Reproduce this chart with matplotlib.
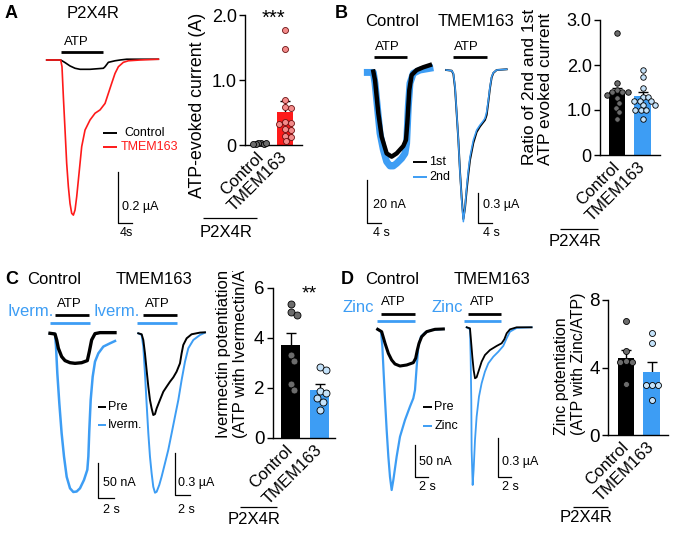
import numpy as np
import matplotlib
matplotlib.use('Agg')
import matplotlib.pyplot as plt
from matplotlib.lines import Line2D
from matplotlib.transforms import Bbox, TransformedBbox

plt.rcParams['font.family'] = ['Liberation Sans', 'DejaVu Sans']

W, H = 673, 536
RED = '#fe1a1a'
BLUE = '#3d9df4'
GREY_DOT = '#6c6c6c'
RED_DOT = '#f38b8b'
BLUE_DOT = '#c4e2fa'

groups = ['Control', 'TMEM163']

# ---------------- data (time in s from ATP onset) ----------------
# A: P2X4R traces, current in uA
a_ctrl_t = [-4.0, 0.0, 1.24, 2.66, 4.1, 5.52, 8.38, 12.19, 12.67, 13.62, 15.52, 16.95, 18.86, 27.9]
a_ctrl_i = [0.0, 0.0, -0.010, -0.023, -0.032, -0.036, -0.036, -0.032, -0.026, -0.009, -0.003, 0.0, 0.003, 0.003]
a_tmem_t = [-4.0, 0.0, 0.37, 0.76, 1.24, 1.71, 2.19, 2.66, 3.14, 3.62, 4.1, 4.57, 5.33, 6.0, 6.95,
            8.38, 9.81, 11.24, 12.67, 13.62, 14.57, 15.52, 16.48, 17.9, 19.33, 22.67, 27.9]
a_tmem_i = [0.0, 0.0, -0.026, -0.142, -0.271, -0.400, -0.490, -0.555, -0.593, -0.600, -0.580, -0.529,
            -0.426, -0.335, -0.271, -0.232, -0.206, -0.193, -0.168, -0.129, -0.090, -0.052, -0.026,
            -0.009, -0.003, 0.0, 0.003]
a_atp = (0.0, 12.2)

# A: ATP-evoked current summary
a_ctrl_pts = [0.03, 0.02, 0.04, 0.02, 0.03, 0.02]
a_tmem_pts = [1.77, 1.48, 0.70, 0.59, 0.58, 0.35, 0.34, 0.33, 0.25, 0.23, 0.15, 0.13, 0.06]
a_mean = [0.03, 0.51]
a_sem = [0.01, 0.17]

# B: repeated ATP, control in nA, TMEM163 in uA
b_ctrl_t2 = [-2.0, -0.2, 0.3, 0.8, 1.3, 1.8, 2.8, 3.8, 4.8, 5.8, 6.8, 8.3, 9.3, 9.8, 10.3, 10.8, 11.8, 13.8, 16.8]
b_ctrl_i2 = [-0.2, -0.2, -5.2, -12.9, -20.6, -28.3, -36.0, -41.4, -43.4, -43.4, -42.2, -39.9, -37.6,
             -32.9, -16.0, -5.2, -0.6, 0.9, 1.7]
b_ctrl_t1 = [-0.2, 0.3, 1.3, 2.3, 3.8, 5.3, 6.8, 8.8, 9.6, 10.0, 10.6, 11.3, 12.8, 14.8, 16.8]
b_ctrl_i1 = [0.2, -3.7, -19.1, -29.9, -37.6, -39.1, -37.6, -34.2, -31.4, -23.7, -8.3, -1.4, 0.9, 2.2, 3.2]
b_tmem_t = [-2.0, -0.3, 0.2, 0.7, 1.2, 1.7, 2.2, 2.7, 3.2, 3.7, 4.2, 4.7, 5.2, 6.2, 7.2, 8.2, 9.0, 9.7,
            10.2, 10.7, 11.2, 11.7, 12.2, 13.2, 16.2]
b_tmem_i1 = [0.0, -0.007, -0.040, -0.180, -0.440, -0.70, -1.02, -1.28, -1.49, -1.38, -1.20, -1.04, -0.90,
             -0.73, -0.62, -0.565, -0.53, -0.50, -0.45, -0.32, -0.18, -0.075, -0.030, 0.0, 0.007]
b_tmem_i2 = [0.0, -0.007, -0.033, -0.167, -0.433, -0.70, -1.033, -1.30, -1.517, -1.367, -1.167, -1.0,
             -0.867, -0.70, -0.60, -0.55, -0.517, -0.483, -0.417, -0.30, -0.167, -0.067, -0.027, 0.0, 0.007]
b_atp_ctrl = (0.0, 9.8)
b_atp_tmem = (0.0, 10.2)

# B: ratio of 2nd / 1st response
b_ctrl_pts = [2.70, 1.59, 1.44, 1.39, 1.39, 1.39, 1.33, 1.26, 1.15, 1.05, 0.95, 0.79]
b_tmem_pts = [1.89, 1.74, 1.48, 1.30, 1.30, 1.20, 1.20, 1.20, 1.11, 1.11, 1.00, 1.00, 1.00, 0.79]
b_mean = [1.39, 1.31]
b_sem = [0.11, 0.08]

# C: ivermectin, control in nA, TMEM163 in uA
c_ctrl_t_pre = [-0.625, 0.0, 0.21, 0.42, 0.83, 1.25, 1.875, 2.5, 3.33, 4.04, 4.29, 4.58, 5.0, 5.625, 7.5]
c_ctrl_i_pre = [0.0, -1.0, -9.5, -21.4, -33.3, -39.0, -42.0, -42.9, -42.0, -39.0, -26.2, -9.5, -0.5, 0.95, 0.95]
c_ctrl_t_iv = [-0.625, 0.0, 0.125, 0.29, 0.54, 0.83, 1.125, 1.46, 1.875, 2.29, 2.71, 3.125, 3.625,
               4.04, 4.17, 4.29, 4.46, 4.71, 5.0, 5.42, 6.04, 6.875, 7.5]
c_ctrl_i_iv = [0.0, -1.0, -19.0, -57.0, -100.0, -143.0, -176.0, -205.0, -221.4, -226.7, -226.0, -221.4,
               -209.5, -195.0, -176.0, -138.0, -95.3, -62.0, -40.5, -28.6, -19.0, -14.3, -11.0]
c_tmem_t_pre = [-0.67, -0.22, 0.0, 0.22, 0.44, 0.67, 0.89, 1.11, 1.33, 1.56, 1.78, 2.22, 2.67, 3.11,
                3.56, 4.0, 4.44, 4.89, 5.11, 5.33, 5.78, 6.44, 7.56, 8.22]
c_tmem_i_pre = [0.0, -0.007, -0.048, -0.144, -0.264, -0.384, -0.480, -0.540, -0.588, -0.581, -0.540,
                -0.480, -0.420, -0.384, -0.348, -0.317, -0.276, -0.216, -0.144, -0.084, -0.036, -0.007,
                0.005, 0.007]
c_tmem_t_iv = [-0.67, -0.22, 0.0, 0.22, 0.44, 0.67, 0.89, 1.11, 1.33, 1.56, 1.78, 2.13, 2.44, 2.89,
               3.33, 3.78, 4.22, 4.67, 5.11, 5.56, 6.0, 6.67, 7.56, 8.22]
c_tmem_i_iv = [0.0, -0.012, -0.096, -0.288, -0.504, -0.719, -0.888, -1.007, -1.104, -1.147, -1.14,
               -1.091, -1.032, -0.935, -0.839, -0.719, -0.600, -0.480, -0.336, -0.204, -0.108, -0.048,
               -0.012, 0.005]
c_atp_ctrl, c_iv_ctrl = (0.0, 4.3), (-0.625, 4.375)
c_atp_tmem, c_iv_tmem = (0.0, 4.45), (-0.88, 4.45)

# C: ivermectin potentiation
c_ctrl_pts = [5.35, 5.02, 4.91, 3.31, 3.06, 2.15, 1.91]
c_tmem_pts = [2.82, 2.69, 1.85, 1.78, 1.59, 1.42, 1.09]
c_mean = [3.69, 1.89]
c_sem = [0.50, 0.24]

# D: zinc, control in nA, TMEM163 in uA
d_ctrl_t_pre = [-0.51, 0.1, 0.62, 1.13, 1.64, 2.15, 2.92, 3.95, 4.97, 5.33, 5.59, 5.85, 6.26, 7.03, 8.31, 9.59]
d_ctrl_i_pre = [0.0, -3.7, -22.1, -38.0, -48.5, -54.8, -58.0, -56.4, -52.7, -45.8, -32.7, -22.1, -11.6,
                -3.7, 0.0, 0.5]
d_ctrl_t_zn = [-0.51, 0.0, 0.21, 0.41, 0.62, 0.87, 1.13, 1.38, 1.64, 1.9, 2.41, 2.92, 3.69, 4.46, 4.97,
               5.23, 5.49, 5.74, 6.15, 6.77, 7.79, 9.59]
d_ctrl_i_zn = [0.0, -3.7, -27.4, -69.5, -111.7, -159.0, -201.0, -232.9, -253.9, -238.0, -201.0, -169.7,
               -143.3, -122.0, -109.0, -95.9, -59.0, -27.4, -11.6, -5.3, -1.1, 0.5]
d_tmem_t_pre = [-0.25, 0.26, 0.41, 0.62, 0.82, 1.03, 1.28, 1.64, 2.05, 2.56, 3.33, 4.36, 5.13, 5.54,
                5.9, 6.41, 7.44, 9.74]
d_tmem_i_pre = [0.0, -0.008, -0.099, -0.230, -0.334, -0.399, -0.391, -0.334, -0.269, -0.217, -0.178,
                -0.146, -0.125, -0.094, -0.047, -0.016, 0.0, 0.0]
d_tmem_t_zn = [-0.25, 0.26, 0.36, 0.46, 0.51, 0.67, 0.82, 1.03, 1.28, 1.64, 2.05, 2.56, 3.08, 3.85,
               4.62, 5.38, 5.9, 6.41, 7.44, 9.74]
d_tmem_i_zn = [0.0, -0.016, -0.230, -0.569, -0.960, -1.234, -1.117, -0.882, -0.700, -0.543, -0.438,
               -0.347, -0.282, -0.230, -0.191, -0.146, -0.086, -0.034, -0.005, 0.0]
d_atp_ctrl, d_zn_ctrl = (0.0, 5.2), (-0.66, 5.2)
d_atp_tmem, d_zn_tmem = (0.0, 5.1), (-0.6, 5.1)

# D: zinc potentiation
d_ctrl_pts = [6.75, 4.95, 4.40, 4.35, 4.30, 3.00]
d_tmem_pts = [6.07, 5.43, 2.96, 2.96, 2.96, 2.07]
d_mean = [4.55, 3.72]
d_sem = [0.48, 0.63]

fig = plt.figure(figsize=(W / 100, H / 100), dpi=100)


def fx(x):
    return x / W


def fy(y):
    return 1 - y / H


def label(x, y, s, size=9, **kw):
    kw.setdefault('ha', 'center')
    kw.setdefault('va', 'center')
    return fig.text(fx(x), fy(y), s, fontsize=size, **kw)


def rule(x0, x1, y, color='k', lw=1.0):
    fig.add_artist(Line2D([fx(x0), fx(x1)], [fy(y), fy(y)], color=color, lw=lw,
                          solid_capstyle='butt'))


def key(x0, x1, y, color, text, tx, text_color='k'):
    rule(x0, x1, y, color=color, lw=1.4)
    label(tx, y, text, 9, ha='left', color=text_color)


def trace_axes(x0, y0, sx, sy):
    # full-figure axes: t = 0, I = 0 sits at pixel (x0, y0)
    ax = fig.add_axes([0, 0, 1, 1])
    ax.set_xlim(-x0 / sx, (W - x0) / sx)
    ax.set_ylim(-(H - y0) / sy, y0 / sy)
    ax.axis('off')
    ax.patch.set_visible(False)

    def to_data(px, py):
        return (px - x0) / sx, (y0 - py) / sy
    return ax, to_data


def stim(ax, to_data, window, py, color='k'):
    level = to_data(0, py)[1]
    ax.plot(window, [level, level], color=color, lw=2.0, solid_capstyle='butt')


def scalebar(ax, to_data, px, py, t_len, i_len):
    t, i = to_data(px, py)
    ax.plot([t, t, t + t_len], [i + i_len, i, i], color='k', lw=0.9)


def bar_axes(left, top, right, bottom, xlim, ymax, ticks, ticklabels, size=13):
    ax = fig.add_axes([fx(left), fy(bottom), (right - left) / W, (bottom - top) / H])
    ax.set_xlim(xlim)
    ax.set_ylim(0, ymax)
    ax.patch.set_visible(False)
    ax.spines[['top', 'right']].set_visible(False)
    ax.spines[['left', 'bottom']].set_linewidth(1.0)
    ax.set_yticks(ticks, ticklabels, fontsize=size)
    ax.tick_params(axis='y', length=4.5, width=1.0, pad=1.5)
    ax.set_xticks([0, 1], groups, rotation=45, ha='right', va='center',
                  rotation_mode='anchor', fontsize=12)
    ax.tick_params(axis='x', length=0, pad=7)
    return ax


def swarm(ax, xc, vals, diam, sep=1.0):
    pos = ax.get_position()
    ux = pos.width * W / (ax.get_xlim()[1] - ax.get_xlim()[0])
    uy = pos.height * H / (ax.get_ylim()[1] - ax.get_ylim()[0])
    d = diam * sep
    placed = []
    for v in vals:
        y = v * uy
        cands = [0.0]
        for a, b in placed:
            dy = y - b
            if abs(dy) < d:
                dx = np.sqrt(d * d - dy * dy)
                cands += [a + dx, a - dx]
        cands.sort(key=abs)
        for c in cands:
            if all((c - a) ** 2 + (y - b) ** 2 >= d * d - 1e-6 for a, b in placed):
                break
        placed.append((c, y))
    return xc + np.array([p[0] for p in placed]) / ux


def summary(ax, means, sems, colors, pts, dot_fc, dot_ec, diam, seps):
    ax.errorbar([0, 1], means, yerr=sems, fmt='none', ecolor='k', elinewidth=1.0,
                capsize=3.5, capthick=1.0, zorder=0.5)
    ax.bar([0, 1], means, width=0.65, color=colors, zorder=1)
    for xc, vals, fc, ec, sep in zip([0, 1], pts, dot_fc, dot_ec, seps):
        xs = swarm(ax, xc, vals, diam, sep)
        ax.scatter(xs, vals, s=(diam * 0.72) ** 2, facecolor=fc, edgecolor=ec,
                   linewidth=0.6, zorder=3, clip_on=False)


def group_label(x0, x1, y_line, y_text):
    rule(x0, x1, y_line, lw=0.9)
    label((x0 + x1) / 2 - 4, y_text, 'P2X4R', 12)


# ================= Panel A =================
label(11, 13.5, 'A', 13, weight='bold')
label(93, 13.5, 'P2X4R', 12)
ax, to_d = trace_axes(60.7, 60, 3.5, 258.5)
stim(ax, to_d, a_atp, 51.7)
label(76, 42, 'ATP', 9.5)
ax.plot(a_ctrl_t, a_ctrl_i, color='k', lw=1.2)
ax.plot(a_tmem_t, a_tmem_i, color=RED, lw=1.2)
scalebar(ax, to_d, 118.3, 223.3, 4, 0.2)
label(122, 206.7, '0.2 µA', 9, ha='left')
label(120, 233, '4s', 9, ha='left')
key(102.7, 117.3, 132.7, 'k', 'Control', 124)
key(102.7, 117.3, 146.7, RED, 'TMEM163', 121, text_color=RED)

ax = bar_axes(245, 15, 302, 145.3, (-0.667, 1.708), 2.0, [0, 1, 2], ['0', '1.0', '2.0'])
summary(ax, a_mean, a_sem, ['k', RED], [a_ctrl_pts, a_tmem_pts],
        [GREY_DOT, RED_DOT], ['k', '#6a1010'], 6.0, [0.45, 1.0])
label(197, 198, 'ATP-evoked current (A)', 12.8, rotation=90, va='bottom')
label(273, 24, '***', 14.5, va='baseline')
group_label(203, 257, 218.3, 232.5)

# ================= Panel B =================
label(341, 14, 'B', 13, weight='bold')
label(392.5, 21.5, 'Control', 12)
label(475.5, 21.5, 'TMEM163', 12)
ax, to_d = trace_axes(374, 72, 3.33, 2.165)
stim(ax, to_d, b_atp_ctrl, 56.7)
label(387, 47, 'ATP', 9.5)
ax.plot(b_ctrl_t2, b_ctrl_i2, color=BLUE, lw=5.0, solid_joinstyle='round')
ax.plot(b_ctrl_t1, b_ctrl_i1, color='k', lw=3.2, solid_joinstyle='round')
scalebar(ax, to_d, 367.3, 223.3, 4, 20)
label(372.7, 205, '20 nA', 9, ha='left')
label(372.7, 232.7, '4 s', 9, ha='left')
key(413.3, 426.7, 161.7, 'k', '1st', 429.3)
key(413.3, 426.7, 177.3, BLUE, '2nd', 429.3)

ax, to_d = trace_axes(452.7, 70, 3.33, 100)
stim(ax, to_d, b_atp_tmem, 56.7)
label(466.7, 47, 'ATP', 9.5)
ax.plot(b_tmem_t, b_tmem_i1, color='k', lw=1.4)
ax.plot(b_tmem_t, b_tmem_i2, color=BLUE, lw=1.1)
scalebar(ax, to_d, 478.3, 223.3, 4, 0.3)
label(483.3, 205, '0.3 µA', 9, ha='left')
label(483.3, 232.7, '4 s', 9, ha='left')

ax = bar_axes(600, 20, 659.7, 155, (-0.66, 1.66), 3.0, [0, 1, 2, 3], ['0', '1.0', '2.0', '3.0'])
summary(ax, b_mean, b_sem, ['k', BLUE], [b_ctrl_pts, b_tmem_pts],
        [GREY_DOT, BLUE_DOT], ['k', 'k'], 5.5, [1.0, 1.0])
label(537.5, 165, 'Ratio of 2nd and 1st\nATP evoked current', 12.5, rotation=90,
      va='bottom', multialignment='left', linespacing=1.15)
group_label(560, 598, 229.3, 241.5)

# ================= Panel C =================
label(12, 279.5, 'C', 13, weight='bold')
label(54, 279.5, 'Control', 12)
label(154, 279.5, 'TMEM163', 12)
ax, to_d = trace_axes(55, 333.3, 8, 0.7)
stim(ax, to_d, c_atp_ctrl, 315)
stim(ax, to_d, c_iv_ctrl, 322.7, BLUE)
label(69, 304, 'ATP', 9.5)
label(30.5, 312, 'Iverm.', 12, color=BLUE)
ax.plot(c_ctrl_t_iv, c_ctrl_i_iv, color=BLUE, lw=1.8)
ax.plot(c_ctrl_t_pre, c_ctrl_i_pre, color='k', lw=2.4)
scalebar(ax, to_d, 98.3, 498.3, 2, 50)
label(102.7, 483.3, '50 nA', 9, ha='left')
label(102.7, 510, '2 s', 9, ha='left')
key(98.3, 106, 406.7, 'k', 'Pre', 108.3)
key(98.3, 106, 425, BLUE, 'Iverm.', 108.3)

ax, to_d = trace_axes(143.3, 333.3, 7.5, 139)
stim(ax, to_d, c_atp_tmem, 315)
stim(ax, to_d, c_iv_tmem, 322.7, BLUE)
label(157.5, 304, 'ATP', 9.5)
label(116.3, 312, 'Iverm.', 12, color=BLUE)
ax.plot(c_tmem_t_iv, c_tmem_i_iv, color=BLUE, lw=1.4)
ax.plot(c_tmem_t_pre, c_tmem_i_pre, color='k', lw=1.4)
scalebar(ax, to_d, 175, 495, 2, 0.3)
label(178.3, 483.3, '0.3 µA', 9, ha='left')
label(178.3, 510, '2 s', 9, ha='left')

ax = bar_axes(272.7, 287.5, 335, 437.5, (-0.614, 1.53), 6, [0, 2, 4, 6], ['0', '2', '4', '6'], 13.5)
summary(ax, c_mean, c_sem, ['k', BLUE], [c_ctrl_pts, c_tmem_pts],
        [GREY_DOT, BLUE_DOT], ['k', 'k'], 7.0, [1.0, 1.0])
t = label(232, 438.3, 'Ivermectin potentiation\n(ATP with Ivermectin/ATP)', 12, rotation=90,
          va='bottom', multialignment='left', linespacing=1.1)
t.set_clip_box(TransformedBbox(Bbox([[0, 0], [1, fy(271)]]), fig.transFigure))
t.set_clip_on(True)
label(309.5, 298, '**', 14, va='baseline')
group_label(240, 277, 506.7, 519.5)

# ================= Panel D =================
label(347, 279.5, 'D', 13, weight='bold')
label(392.5, 279.5, 'Control', 12)
label(492.5, 279.5, 'TMEM163', 12)
ax, to_d = trace_axes(381, 329.3, 6.5, 0.633)
stim(ax, to_d, d_atp_ctrl, 314)
stim(ax, to_d, d_zn_ctrl, 321, BLUE)
label(393.7, 301.7, 'ATP', 9.5)
label(358.3, 307.5, 'Zinc', 12, color=BLUE)
ax.plot(d_ctrl_t_zn, d_ctrl_i_zn, color=BLUE, lw=1.6)
ax.plot(d_ctrl_t_pre, d_ctrl_i_pre, color='k', lw=2.2)
scalebar(ax, to_d, 415, 476.7, 2, 50)
label(419, 461.7, '50 nA', 9, ha='left')
label(419, 486.7, '2 s', 9, ha='left')
key(423.3, 431.7, 407.3, 'k', 'Pre', 434.3)
key(423.3, 431.7, 425.7, BLUE, 'Zinc', 434.3)

ax, to_d = trace_axes(468.3, 327.3, 6.5, 127.8)
stim(ax, to_d, d_atp_tmem, 314)
stim(ax, to_d, d_zn_tmem, 321, BLUE)
label(482, 301.7, 'ATP', 9.5)
label(446.8, 307.5, 'Zinc', 12, color=BLUE)
ax.plot(d_tmem_t_zn, d_tmem_i_zn, color=BLUE, lw=1.3)
ax.plot(d_tmem_t_pre, d_tmem_i_pre, color='k', lw=1.3)
scalebar(ax, to_d, 498.3, 476.7, 2, 0.3)
label(501.7, 461.7, '0.3 µA', 9, ha='left')
label(501.7, 486.7, '2 s', 9, ha='left')

ax = bar_axes(608.3, 300, 668, 435, (-0.69, 1.63), 8, [0, 4, 8], ['0', '4', '8'], 13.5)
summary(ax, d_mean, d_sem, ['k', BLUE], [d_ctrl_pts, d_tmem_pts],
        [GREY_DOT, BLUE_DOT], ['k', 'k'], 6.0, [1.0, 1.0])
label(570, 435, 'Zinc potentiation\n(ATP with Zinc/ATP)', 11.5, rotation=90,
      va='bottom', multialignment='left', linespacing=1.15)
group_label(573, 608, 507.3, 517.5)

fig.savefig('out.png', dpi=100)
